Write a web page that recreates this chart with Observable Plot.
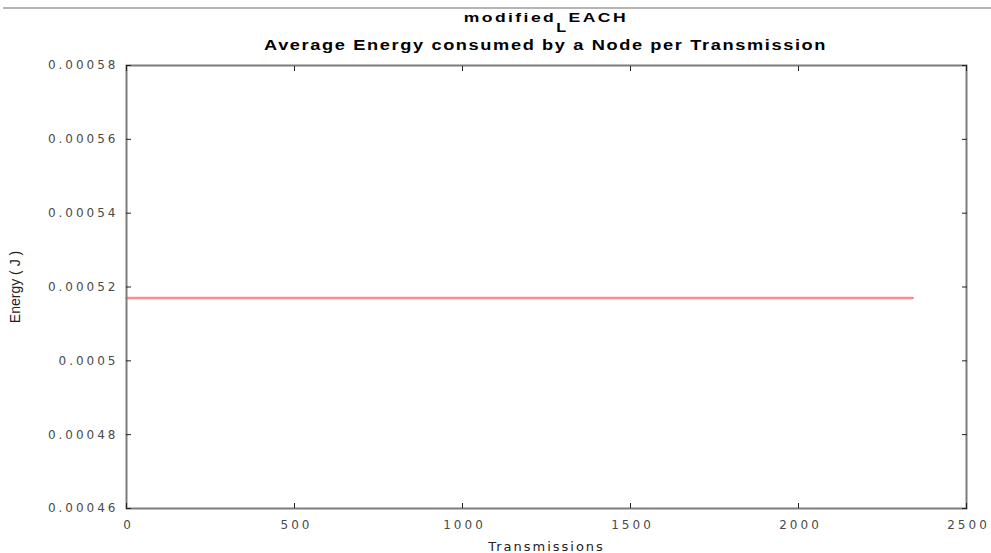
<!DOCTYPE html>
<html>
<head>
<meta charset="utf-8">
<script src="https://cdn.jsdelivr.net/npm/d3@7"></script>
<script src="https://cdn.jsdelivr.net/npm/@observablehq/plot@0.6"></script>
<style>
  html, body { margin: 0; padding: 0; background: #fff; }
  #wrap { position: relative; width: 991px; height: 553px; overflow: hidden; background: #fff; }
  #head { position: relative; width: 991px; height: 55px; }
  #rule { position: absolute; left: 3px; right: 0; top: 7px; height: 2px; background: #b4b4b4; }
  .title { position: absolute; left: 126px; width: 840px; text-align: center; font-family: "Liberation Sans", Arial, sans-serif; font-weight: bold; color: #000; white-space: nowrap; }
  .title > span.s { display: inline-block; transform-origin: 50% 50%; }
  #t1 { top: 11px; font-size: 13px; line-height: 13px; }
  #t1 > span.s { transform: scaleX(1.35); letter-spacing: 1.8px; }
  #t1 .sub { position: relative; top: 10px; font-size: 12px; }
  #t2 { top: 38px; font-size: 14px; line-height: 14px; }
  #t2 > span.s { transform: scaleX(1.3); letter-spacing: 1.25px; }
  svg.ch g[aria-label="x-axis tick label"] text,
  svg.ch g[aria-label="y-axis tick label"] text { font-size: 12px; letter-spacing: 3px; }
  svg.ch g[aria-label="x-axis label"] text { font-family: "DejaVu Sans", sans-serif; font-size: 13px; letter-spacing: 2px; fill: #222; }
  svg.ch g[aria-label="y-axis label"] text { font-family: "Liberation Sans", Arial, sans-serif; font-size: 14px; fill: #222; }
</style>
</head>
<body>
<div id="wrap">
  <div id="head">
    <div id="rule"></div>
    <div class="title" id="t1"><span class="s">modified<span class="sub">L</span>EACH</span></div>
    <div class="title" id="t2"><span class="s">Average Energy consumed by a Node per Transmission</span></div>
  </div>
  <div id="chart"></div>
</div>
<script>
// ---- data ----
const xTicks = [0, 500, 1000, 1500, 2000, 2500];
const xTickLabels = ["0", "500", "1000", "1500", "2000", "2500"];
const yTicks = [0.00046, 0.00048, 0.0005, 0.00052, 0.00054, 0.00056, 0.00058];
const yTickLabels = ["0.00046", "0.00048", "0.0005", "0.00052", "0.00054", "0.00056", "0.00058"];
const transmissions = [0, 2340];
const energy = [0.000517, 0.000517];

const series = transmissions.map((t, i) => ({t, e: energy[i]}));
const xLab = new Map(xTicks.map((v, i) => [v, xTickLabels[i]]));
const yLab = new Map(yTicks.map((v, i) => [v, yTickLabels[i]]));

const chart = Plot.plot({
  width: 991,
  height: 498,
  marginTop: 10,
  marginBottom: 45,
  marginLeft: 126,
  marginRight: 25,
  className: "ch",
  style: {fontFamily: "'DejaVu Sans', sans-serif", background: "#fff", overflow: "visible"},
  x: {domain: [0, 2500]},
  y: {domain: [0.00046, 0.00058]},
  marks: [
    Plot.line(series, {x: "t", y: "e", stroke: "#ff8a8a", strokeWidth: 2.5}),
    Plot.frame({stroke: "#7c7c7c", strokeWidth: 2}),
    // tick labels + axis titles
    Plot.axisX(xTicks, {anchor: "bottom", tickSize: 0, tickPadding: 12, fill: "#4a4a4a", fontSize: 12, dx: 2,
      tickFormat: d => xLab.get(d), label: "Transmissions", labelAnchor: "center", labelArrow: "none", labelOffset: 42}),
    Plot.axisY(yTicks, {anchor: "left", tickSize: 0, tickPadding: 8, fill: "#4a4a4a", fontSize: 12,
      tickFormat: d => yLab.get(d), label: "Energy ( J )", labelAnchor: "center", labelArrow: "none", labelOffset: 116}),
    // inward ticks on all four sides
    Plot.axisX(xTicks, {anchor: "bottom", tickSize: -5, fill: "none", stroke: "#222", label: null}),
    Plot.axisX(xTicks, {anchor: "top", tickSize: -5, fill: "none", stroke: "#222", label: null}),
    Plot.axisY(yTicks, {anchor: "left", tickSize: -5, fill: "none", stroke: "#222", label: null}),
    Plot.axisY(yTicks, {anchor: "right", tickSize: -5, fill: "none", stroke: "#222", label: null})
  ]
});
document.getElementById("chart").appendChild(chart);
</script>
</body>
</html>
